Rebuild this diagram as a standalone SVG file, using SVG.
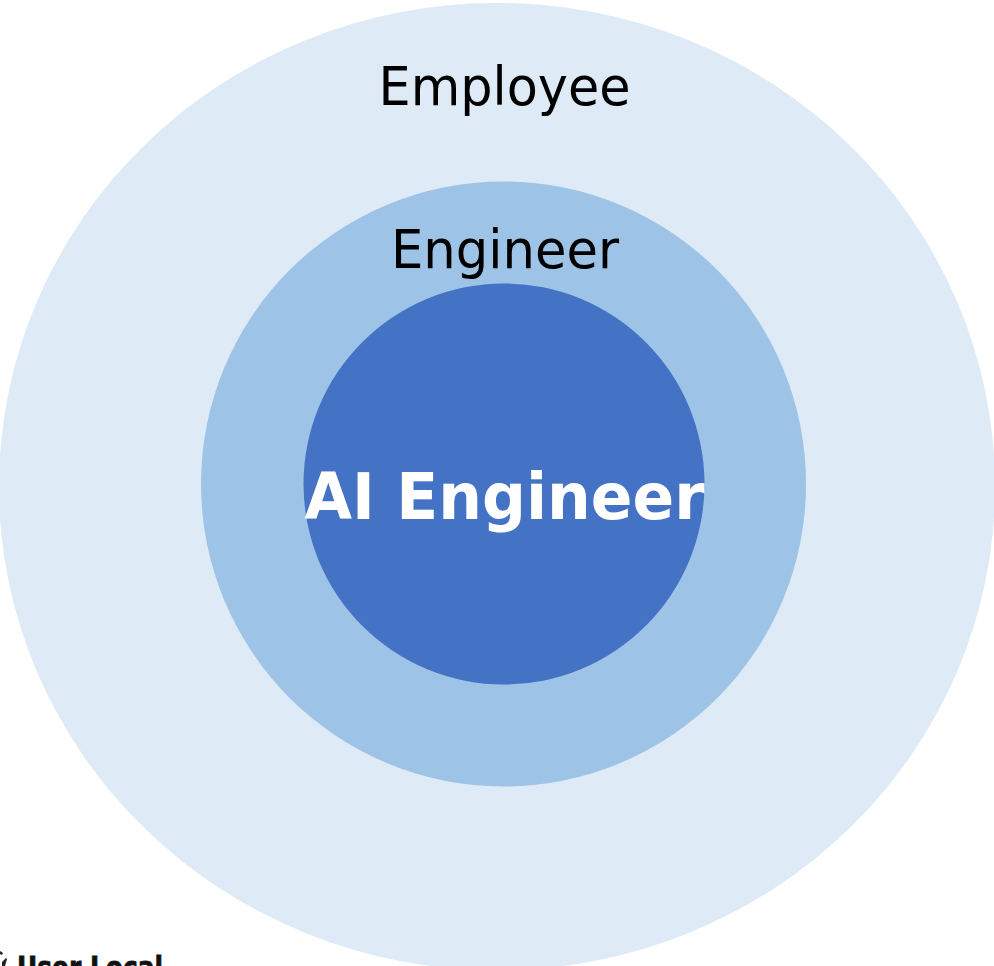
<svg xmlns="http://www.w3.org/2000/svg" width="994" height="966" viewBox="0 0 994 966">
<style>
text{font-family:"DejaVu Sans","Noto Sans",sans-serif;text-anchor:middle}
.l{font-size:54px;fill:#000}
</style>
<rect width="994" height="966" fill="#fff"/>
<g id="employee"><ellipse cx="497" cy="486.600" rx="498" ry="483.600" fill="#deeaf6"/><text class="l" x="504.500" y="105" textLength="252" lengthAdjust="spacingAndGlyphs">Employee</text></g>
<g id="engineer"><circle cx="503.500" cy="484" r="302.500" fill="#9dc3e6"/><text class="l" x="505" y="268" textLength="228" lengthAdjust="spacingAndGlyphs">Engineer</text></g>
<g id="ai-engineer"><circle cx="504" cy="484" r="200.500" fill="#4472c4"/><text x="504.500" y="519" font-size="64" font-weight="700" fill="#fff" textLength="400" lengthAdjust="spacingAndGlyphs">AI Engineer</text></g>
<g id="logo"><path d="M0 951l3 2-1 2-2-1zM2 962l4-4 1 1-2 7H2z" fill="#222"/><text x="90" y="978" font-size="31" font-weight="700" fill="#111" stroke="#111" stroke-width=".8" textLength="146" lengthAdjust="spacingAndGlyphs">User Local</text></g>
</svg>
